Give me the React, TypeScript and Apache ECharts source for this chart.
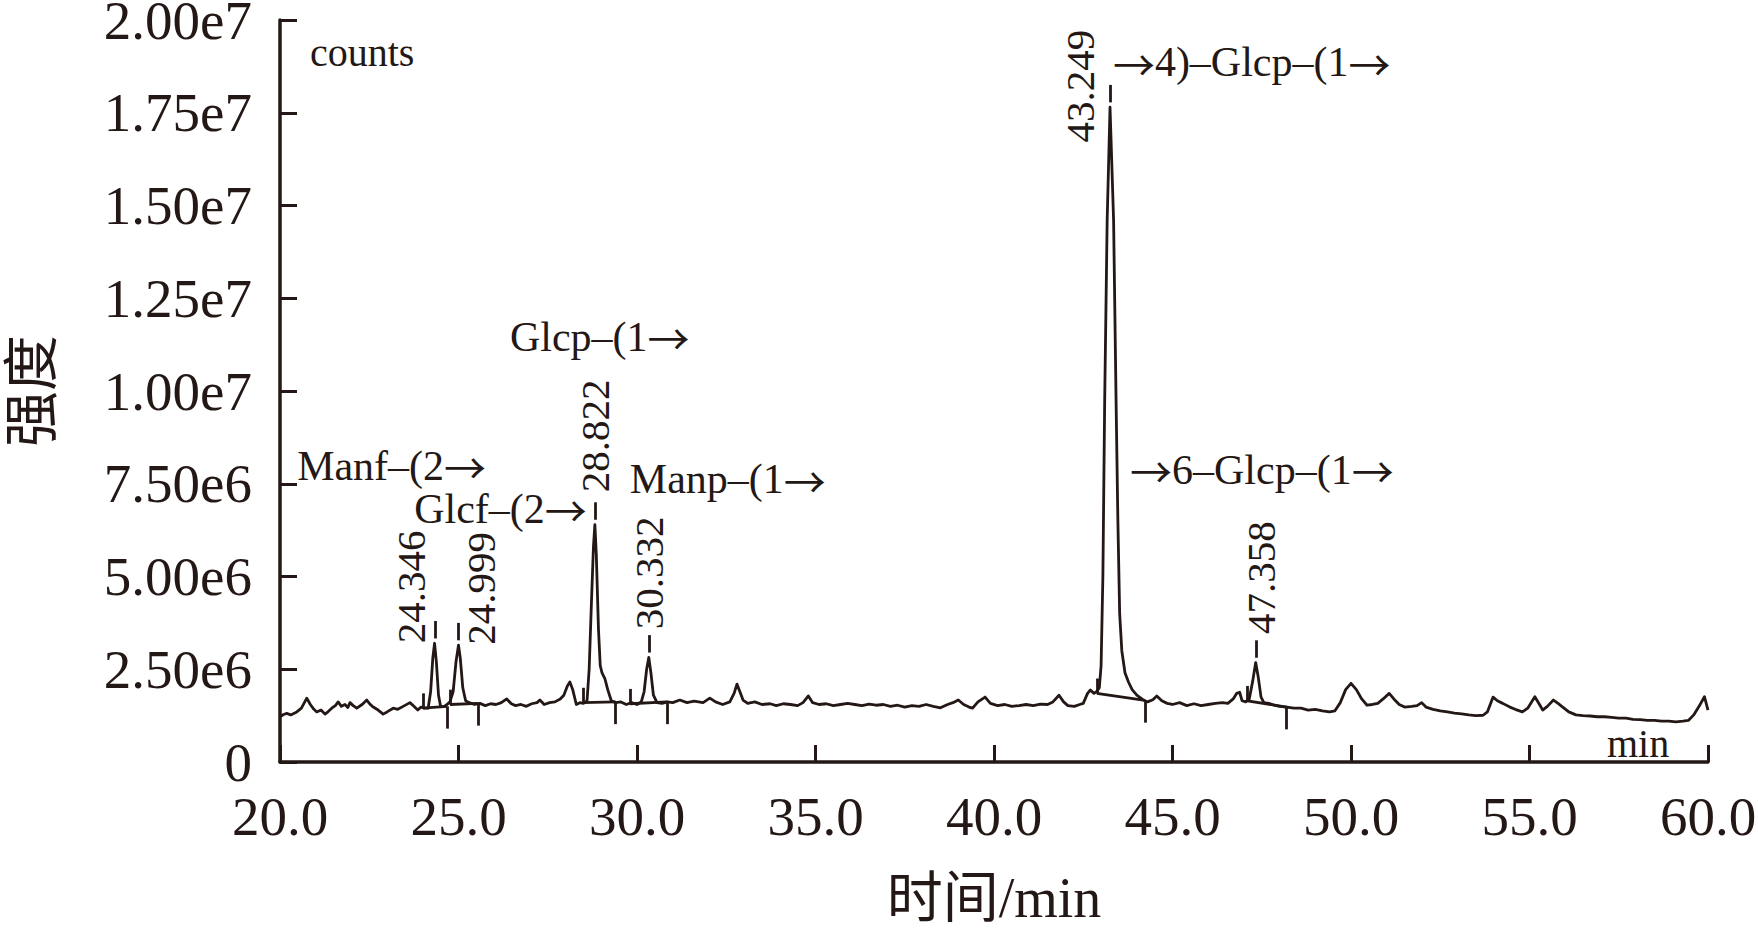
import React, { useEffect, useRef } from "react";
import * as echarts from "echarts";

// ---- data (time in min, intensity in 1e6 counts) ----
const timeMin: number[] = [
  20.0, 20.1, 20.19, 20.3, 20.47, 20.6, 20.75, 20.85, 20.95, 21.03, 21.15, 21.26, 21.35, 21.45, 21.55, 21.63,
  21.72, 21.82, 21.9, 21.96, 22.05, 22.15, 22.3, 22.43, 22.52, 22.6, 22.75, 22.89, 23.0, 23.17, 23.3, 23.45,
  23.64, 23.75, 23.86, 23.95, 24.05, 24.15, 24.22, 24.28, 24.33, 24.38, 24.44, 24.5, 24.6, 24.68, 24.76, 24.85,
  24.93, 25.0, 25.05, 25.12, 25.2, 25.3, 25.45, 25.6, 25.75, 25.9, 26.05, 26.2, 26.35, 26.48, 26.6, 26.75,
  26.9, 27.05, 27.2, 27.28, 27.4, 27.55, 27.7, 27.85, 27.95, 28.05, 28.12, 28.2, 28.3, 28.4, 28.5, 28.6,
  28.66, 28.72, 28.78, 28.82, 28.86, 28.92, 28.97, 29.02, 29.1, 29.18, 29.28, 29.4, 29.55, 29.7, 29.85, 30.0,
  30.12, 30.2, 30.27, 30.33, 30.39, 30.46, 30.56, 30.7, 30.85, 31.0, 31.2, 31.4, 31.6, 31.85, 32.04, 32.2,
  32.4, 32.6, 32.72, 32.8, 32.88, 32.97, 33.1, 33.3, 33.5, 33.73, 33.9, 34.1, 34.3, 34.5, 34.65, 34.8,
  34.92, 35.1, 35.3, 35.5, 35.7, 35.9, 36.1, 36.3, 36.5, 36.7, 36.9, 37.1, 37.3, 37.5, 37.7, 37.9,
  38.1, 38.3, 38.5, 38.7, 38.85, 39.0, 39.15, 39.3, 39.4, 39.55, 39.75, 39.9, 40.1, 40.3, 40.5, 40.7,
  40.9, 41.1, 41.3, 41.5, 41.65, 41.82, 41.95, 42.07, 42.25, 42.4, 42.5, 42.62, 42.7, 42.8, 42.88, 42.95,
  43.0, 43.05, 43.1, 43.17, 43.25, 43.35, 43.42, 43.47, 43.52, 43.58, 43.67, 43.77, 43.87, 44.0, 44.17, 44.3,
  44.45, 44.56, 44.7, 44.85, 45.0, 45.2, 45.4, 45.6, 45.8, 46.0, 46.2, 46.4, 46.55, 46.7, 46.8, 46.88,
  46.95, 47.05, 47.15, 47.25, 47.33, 47.4, 47.48, 47.56, 47.7, 47.85, 48.0, 48.2, 48.4, 48.6, 48.8, 49.0,
  49.2, 49.4, 49.55, 49.7, 49.85, 50.0, 50.15, 50.3, 50.45, 50.6, 50.75, 50.9, 51.07, 51.2, 51.35, 51.5,
  51.7, 51.85, 51.98, 52.1, 52.3, 52.5, 52.7, 52.9, 53.1, 53.3, 53.5, 53.7, 53.82, 53.98, 54.1, 54.25,
  54.45, 54.6, 54.8, 54.95, 55.15, 55.28, 55.37, 55.5, 55.67, 55.8, 55.93, 56.1, 56.3, 56.5, 56.7, 56.9,
  57.1, 57.3, 57.5, 57.7, 57.9, 58.1, 58.3, 58.5, 58.7, 58.9, 59.1, 59.3, 59.45, 59.6, 59.75, 59.9,
  60.0,
];

const intensityE6: number[] = [
  1.22, 1.28, 1.31, 1.27, 1.35, 1.45, 1.72, 1.55, 1.42, 1.35, 1.4, 1.29, 1.36, 1.45, 1.52, 1.62,
  1.5, 1.55, 1.47, 1.6, 1.52, 1.45, 1.55, 1.67, 1.56, 1.49, 1.4, 1.29, 1.35, 1.45, 1.42, 1.5,
  1.6, 1.5, 1.4, 1.48, 1.45, 1.45, 1.9, 2.8, 3.2, 2.7, 1.8, 1.49, 1.5, 1.55, 1.62, 1.9,
  2.7, 3.15, 2.8, 2.0, 1.65, 1.6, 1.55, 1.58, 1.52, 1.57, 1.55, 1.6, 1.7, 1.57, 1.52, 1.55,
  1.5, 1.57, 1.6, 1.67, 1.55, 1.6, 1.62, 1.7, 1.8, 2.05, 2.16, 1.95, 1.55, 1.6, 1.58, 1.65,
  2.5, 4.2, 5.8, 6.4, 5.6, 3.6, 2.6, 2.4, 2.25, 1.95, 1.65, 1.6, 1.62, 1.55, 1.6, 1.55,
  1.62, 1.9, 2.5, 2.82, 2.4, 1.8, 1.6, 1.58, 1.62, 1.6, 1.67, 1.6, 1.64, 1.6, 1.72, 1.62,
  1.55, 1.62, 1.85, 2.1, 1.9, 1.67, 1.58, 1.62, 1.55, 1.57, 1.52, 1.57, 1.55, 1.52, 1.6, 1.78,
  1.6, 1.55, 1.57, 1.52, 1.55, 1.58, 1.55, 1.52, 1.56, 1.53, 1.55, 1.5, 1.53, 1.48, 1.52, 1.5,
  1.55, 1.5, 1.46, 1.55, 1.6, 1.67, 1.55, 1.48, 1.45, 1.62, 1.75, 1.58, 1.52, 1.55, 1.5, 1.52,
  1.55, 1.52, 1.56, 1.55, 1.62, 1.8, 1.62, 1.52, 1.5, 1.55, 1.58, 1.85, 1.94, 1.85, 1.9, 2.0,
  2.6, 5.0, 9.7, 14.6, 17.65, 14.6, 9.7, 6.5, 4.0, 3.0, 2.4, 2.15, 1.95, 1.8, 1.68, 1.62,
  1.68, 1.78, 1.65, 1.58, 1.55, 1.6, 1.52, 1.57, 1.52, 1.55, 1.58, 1.6, 1.58, 1.7, 1.85, 1.88,
  1.65, 1.62, 1.7, 2.2, 2.68, 2.3, 1.75, 1.6, 1.58, 1.53, 1.5, 1.48, 1.45, 1.45, 1.4, 1.42,
  1.38, 1.35, 1.38, 1.6, 1.95, 2.12, 1.95, 1.7, 1.53, 1.55, 1.58, 1.7, 1.85, 1.7, 1.55, 1.48,
  1.5, 1.52, 1.6, 1.48, 1.42, 1.38, 1.35, 1.32, 1.3, 1.27, 1.25, 1.26, 1.35, 1.75, 1.65, 1.58,
  1.48, 1.42, 1.35, 1.45, 1.76, 1.55, 1.4, 1.5, 1.67, 1.58, 1.48, 1.35, 1.27, 1.25, 1.24, 1.22,
  1.22, 1.2, 1.18, 1.18, 1.15, 1.14, 1.12, 1.12, 1.1, 1.1, 1.08, 1.1, 1.12, 1.27, 1.5, 1.76,
  1.4,
];

// labelled peaks
const peakTimes: number[] = [24.346, 24.999, 28.822, 30.332, 43.249, 47.358];
const peakApexE6: number[] = [3.2, 3.15, 6.4, 2.82, 17.65, 2.68];
const peakLabels: string[] = ["24.346", "24.999", "28.822", "30.332", "43.249", "47.358"];
const peakLabelT: number[] = [23.68, 25.64, 28.82, 30.35, 42.41, 47.48];
const peakLabelE6: number[] = [4.72, 4.68, 8.79, 5.1, 18.22, 4.97];

// integration baselines (start / end)
const intStartT: number[] = [24.0, 24.76, 28.49, 29.8, 42.88, 47.1];
const intStartE6: number[] = [1.45, 1.55, 1.6, 1.57, 1.85, 1.65];
const intEndT: number[] = [24.68, 25.55, 29.4, 30.84, 44.23, 48.2];
const intEndE6: number[] = [1.5, 1.58, 1.62, 1.62, 1.66, 1.48];

// linkage annotations
const linkNames: string[] = ["Manf–(2→", "Glcf–(2→", "Glcp–(1→", "Manp–(1→", "→4)–Glcp–(1→", "→6–Glcp–(1→"];
const linkT: number[] = [20.48, 23.76, 26.44, 29.8, 43.33, 43.81];
const linkE6: number[] = [7.98, 6.82, 11.46, 7.62, 18.86, 7.88];

// unit captions
const unitNames: string[] = ["counts", "min"];
const unitT: number[] = [20.84, 57.17];
const unitE6: number[] = [19.12, 0.51];

const yTicks = { min: 0, max: 2.0e7, interval: 2.5e6 };
const xTicks = { min: 20, max: 60, interval: 5 };

const INK = "#231815";
const SERIF = "'Liberation Serif', 'Times New Roman', 'Noto Sans CJK SC', serif";

export default function App() {
  const ref = useRef<HTMLDivElement>(null);

  useEffect(() => {
    document.body.style.margin = "0";
    const chart = echarts.init(ref.current!, null, { renderer: "svg" });

    const trace = timeMin.map((t, i) => [t, intensityE6[i] * 1e6]);

    const segs: any[] = [];
    // dashes above labelled peaks
    peakTimes.forEach((t, i) => {
      segs.push([{ coord: [t, (peakApexE6[i] + 0.13) * 1e6] }, { coord: [t, (peakApexE6[i] + 0.6) * 1e6] }]);
    });
    // integration baselines and their boundary ticks
    intStartT.forEach((t, i) => {
      segs.push([{ coord: [t, intStartE6[i] * 1e6] }, { coord: [intEndT[i], intEndE6[i] * 1e6] }]);
      segs.push([{ coord: [t, intStartE6[i] * 1e6] }, { coord: [t, (intStartE6[i] + 0.4) * 1e6] }]);
      segs.push([{ coord: [intEndT[i], intEndE6[i] * 1e6] }, { coord: [intEndT[i], (intEndE6[i] - 0.6) * 1e6] }]);
    });

    const option: any = {
      animation: false,
      backgroundColor: "#ffffff",
      grid: { left: 280, right: 50, top: 20, bottom: 166, containLabel: false, outerBoundsMode: "none" },
      xAxis: {
        type: "value",
        min: xTicks.min,
        max: xTicks.max,
        interval: xTicks.interval,
        name: "时间/min",
        nameLocation: "middle",
        nameGap: 108,
        nameTextStyle: { fontSize: 56, fontFamily: SERIF, color: INK },
        axisLine: { show: true, onZero: false, lineStyle: { color: INK, width: 3.5 } },
        axisTick: { show: true, inside: true, length: 17, lineStyle: { color: INK, width: 3 } },
        axisLabel: {
          show: true,
          margin: 27,
          fontSize: 55,
          fontFamily: SERIF,
          color: INK,
          formatter: (v: number) => v.toFixed(1),
        },
        splitLine: { show: false },
      },
      yAxis: {
        type: "value",
        min: yTicks.min,
        max: yTicks.max,
        interval: yTicks.interval,
        name: "强度",
        nameLocation: "middle",
        nameGap: 220,
        nameTextStyle: { fontSize: 56, fontFamily: SERIF, color: INK },
        axisLine: { show: true, lineStyle: { color: INK, width: 3.5 } },
        axisTick: { show: true, inside: true, length: 17, lineStyle: { color: INK, width: 3 } },
        axisLabel: {
          show: true,
          margin: 28,
          fontSize: 55,
          lineHeight: 38,
          fontFamily: SERIF,
          color: INK,
          formatter: (v: number) => (v === 0 ? "0" : v.toExponential(2).replace("+", "")),
        },
        splitLine: { show: false },
      },
      series: [
        {
          type: "line",
          data: trace,
          symbol: "none",
          silent: true,
          lineStyle: { color: INK, width: 2.8, join: "round" },
          markLine: {
            silent: true,
            symbol: "none",
            label: { show: false },
            lineStyle: { color: INK, width: 2.8, type: "solid" },
            emphasis: { disabled: true },
            data: segs,
          },
        },
      ],
    };

    chart.setOption(option);

    const px = (t: number, v: number) =>
      chart.convertToPixel({ xAxisIndex: 0, yAxisIndex: 0 }, [t, v]) as number[];

    const graphics: any[] = [];
    peakLabels.forEach((s, i) => {
      const p = px(peakLabelT[i], peakLabelE6[i] * 1e6);
      graphics.push({
        type: "text",
        x: p[0],
        y: p[1],
        rotation: Math.PI / 2,
        silent: true,
        style: {
          text: s,
          fill: INK,
          fontSize: 41,
          fontFamily: SERIF,
          align: "center",
          verticalAlign: "middle",
          textAlign: "center",
          textVerticalAlign: "middle",
        },
      });
    });
    linkNames.forEach((s, i) => {
      const p = px(linkT[i], linkE6[i] * 1e6);
      graphics.push({
        type: "text",
        x: p[0],
        y: p[1],
        silent: true,
        style: {
          text: s.split("→").join("{ar|→}"),
          fill: INK,
          fontSize: 42,
          fontFamily: SERIF,
          lineHeight: 38,
          align: "left",
          verticalAlign: "middle",
          textAlign: "left",
          textVerticalAlign: "middle",
          rich: {
            ar: {
              fontFamily: "'Noto Sans CJK SC', sans-serif",
              fontSize: 42,
              lineHeight: 38,
              fill: INK,
              verticalAlign: "middle",
            },
          },
        },
      });
    });
    unitNames.forEach((s, i) => {
      const p = px(unitT[i], unitE6[i] * 1e6);
      graphics.push({
        type: "text",
        x: p[0],
        y: p[1],
        silent: true,
        style: {
          text: s,
          fill: INK,
          fontSize: 40,
          fontFamily: SERIF,
          align: "left",
          verticalAlign: "middle",
          textAlign: "left",
          textVerticalAlign: "middle",
        },
      });
    });
    chart.setOption({ graphic: graphics });

    return () => chart.dispose();
  }, []);

  return <div ref={ref} style={{ width: 1758, height: 928 }} />;
}
